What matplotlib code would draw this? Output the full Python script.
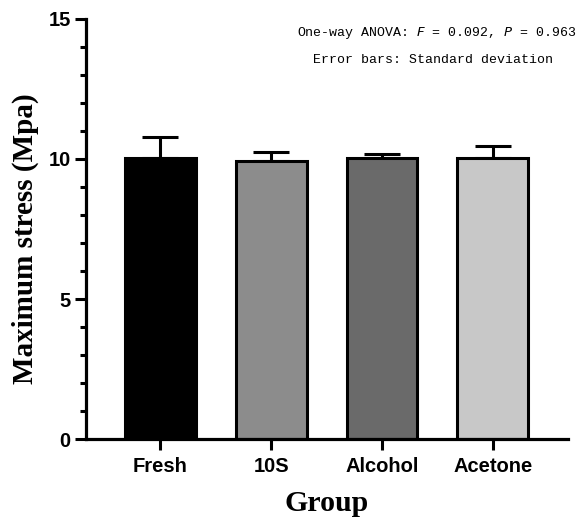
import matplotlib
matplotlib.use("Agg")
from matplotlib import pyplot as plt
from matplotlib.ticker import MultipleLocator

# data
groups = ["Fresh", "10S", "Alcohol", "Acetone"]
means = [10.05, 9.92, 10.05, 10.05]
sds = [0.72, 0.33, 0.13, 0.42]
colors = ["#000000", "#8c8c8c", "#6a6a6a", "#c8c8c8"]

fig = plt.figure(figsize=(5.81, 5.24), dpi=100)
ax = fig.add_axes([0.148, 0.162, 0.83, 0.802])

x = range(len(groups))
ax.errorbar(x, means, yerr=[[0] * len(sds), sds], fmt="none", ecolor="black",
            elinewidth=2.2, capsize=13, capthick=2.2, zorder=1)
ax.bar(x, means, width=0.64, color=colors, edgecolor="black", linewidth=2.2, zorder=2)

ax.set_xlim(-0.67, 3.68)
ax.set_ylim(0, 15)
ax.yaxis.set_major_locator(MultipleLocator(5))
ax.yaxis.set_minor_locator(MultipleLocator(1))
ax.set_xticks(list(x))
ax.set_xticklabels(groups)

for s in ["top", "right"]:
    ax.spines[s].set_visible(False)
for s in ["left", "bottom"]:
    ax.spines[s].set_linewidth(2.3)

ax.tick_params(axis="both", which="major", length=8, width=2.2, labelsize=14.5, pad=3)
ax.tick_params(axis="x", which="major", pad=5)
ax.tick_params(axis="y", which="minor", length=4.5, width=2.2)
for lab in ax.get_xticklabels() + ax.get_yticklabels():
    lab.set_fontfamily("Liberation Sans")
    lab.set_fontweight("bold")

ax.set_ylabel("Maximum stress (Mpa)", fontfamily="Liberation Serif",
              fontweight="bold", fontsize=21)
ax.yaxis.set_label_coords(-0.097, 0.478)
ax.set_xlabel("Group", fontfamily="Liberation Serif", fontweight="bold",
              fontsize=21.5, labelpad=10)

fig.text(0.752, 0.937, "One-way ANOVA: $\\it{F}$ = 0.092, $\\it{P}$ = 0.963",
         ha="center", va="center", fontfamily="Liberation Mono", fontsize=9.5)
fig.text(0.745, 0.885, "Error bars: Standard deviation",
         ha="center", va="center", fontfamily="Liberation Mono", fontsize=9.5)

plt.savefig("out.png", dpi=100)
